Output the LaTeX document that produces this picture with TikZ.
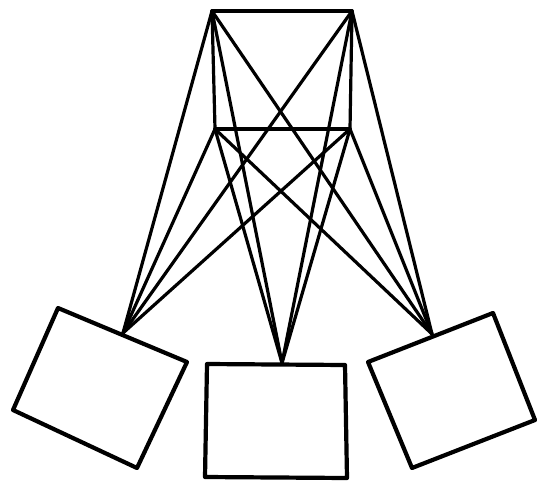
\documentclass[tikz,border=0pt]{standalone}
\begin{document}
\begin{tikzpicture}[x=1pt,y=-1pt,
  wire/.style={line width=3.2pt,line cap=round},
  bar/.style={line width=3.6pt,line cap=round},
  box/.style={line width=4.2pt,line join=round}]
\useasboundingbox (0,0) rectangle (537,484);
% top and middle cross-arms
\coordinate (A) at (212,11);
\coordinate (B) at (352,11);
\coordinate (C) at (215,129);
\coordinate (D) at (350,129);
% attachment points on the boxes
\coordinate (L) at (123,333);
\coordinate (M) at (282,363);
\coordinate (R) at (432,334);
% boxes
\coordinate (l1) at (58,308);
\coordinate (l2) at (187,362);
\coordinate (l3) at (137,468);
\coordinate (l4) at (13,410);
\coordinate (m1) at (207,364);
\coordinate (m2) at (345,365);
\coordinate (m3) at (347,478);
\coordinate (m4) at (205,477);
\coordinate (r1) at (368,362);
\coordinate (r2) at (493,313);
\coordinate (r3) at (535,420);
\coordinate (r4) at (412,468);
\draw[box] (l1) -- (l2) -- (l3) -- (l4) -- cycle;
\draw[box] (m1) -- (m2) -- (m3) -- (m4) -- cycle;
\draw[box] (r1) -- (r2) -- (r3) -- (r4) -- cycle;
% frame
\draw[bar] (A) -- (B);
\draw[bar] (C) -- (D);
\draw[wire] (A) -- (C);
\draw[wire] (B) -- (D);
% wires to the boxes
\foreach \s in {A,B,C,D}{
  \foreach \t in {L,M,R}{
    \draw[wire] (\s) -- (\t);
  }
}
\end{tikzpicture}
\end{document}
